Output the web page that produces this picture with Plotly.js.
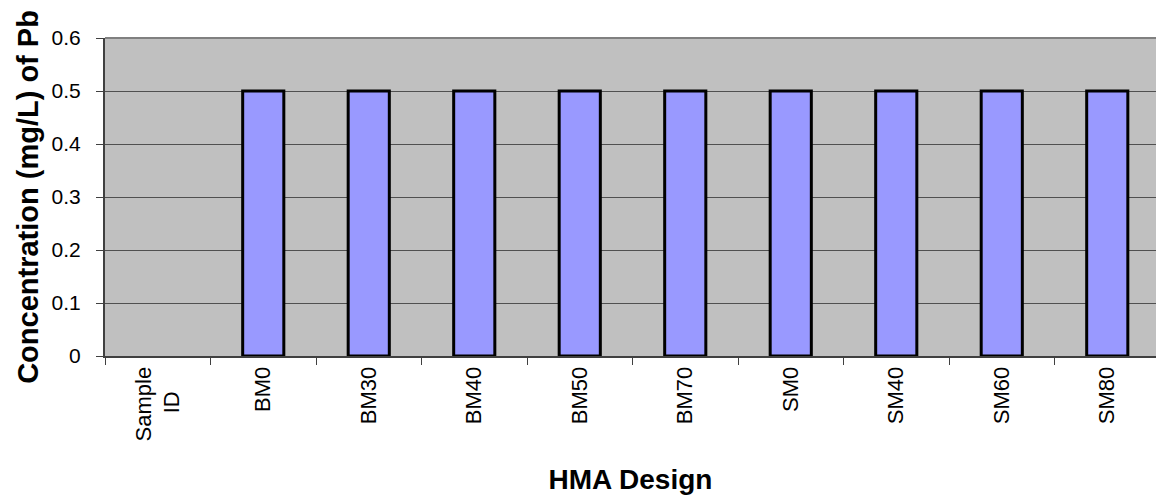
<!DOCTYPE html>
<html>
<head>
<meta charset="utf-8">
<script src="https://cdn.plot.ly/plotly-3.0.1.min.js"></script>
<style>
  html, body { margin: 0; padding: 0; background: #ffffff; }
  #chart { width: 1156px; height: 497px; }
</style>
</head>
<body>
<div id="chart"></div>
<script>
// Data
const categories = ["Sample<br>ID\u00a0\u00a0\u00a0\u00a0", "BM0", "BM30", "BM40", "BM50", "BM70", "SM0", "SM40", "SM60", "SM80"];
const pbConcentration = [null, 0.5, 0.5, 0.5, 0.5, 0.5, 0.5, 0.5, 0.5, 0.5];
const yTickValues = [0, 0.1, 0.2, 0.3, 0.4, 0.5, 0.6];
const yTickLabels = ["0", "0.1", "0.2", "0.3", "0.4", "0.5", "0.6"];
const xAxisTitle = "HMA Design";
const yAxisTitle = "Concentration (mg/L) of Pb";

const font = "Liberation Sans, Arial, sans-serif";

const trace = {
  type: "bar",
  x: categories,
  y: pbConcentration,
  marker: { color: "#9999FF", line: { color: "#000000", width: 3 } },
  hoverinfo: "x+y"
};

const layout = {
  width: 1156,
  height: 497,
  margin: { l: 105, r: 0, t: 38, b: 141 },
  paper_bgcolor: "#ffffff",
  plot_bgcolor: "#C0C0C0",
  bargap: 0.61,
  showlegend: false,
  font: { family: font, color: "#000000", size: 21 },
  xaxis: {
    type: "category",
    range: [-0.5, 9.462],
    tickangle: -90,
    ticks: "outside",
    tickson: "boundaries",
    ticklen: 7,
    tickwidth: 1,
    tickcolor: "#404040",
    showline: true,
    linecolor: "#404040",
    linewidth: 2,
    showgrid: false,
    zeroline: false,
    tickfont: { family: font, size: 22, color: "#000000" },
    title: { text: xAxisTitle, font: { family: font, size: 28, color: "#000000", weight: "bold" }, standoff: 29 }
  },
  yaxis: {
    range: [0, 0.6],
    tickvals: yTickValues,
    ticktext: yTickLabels,
    ticks: "outside",
    ticklen: 7,
    tickwidth: 1,
    tickcolor: "#404040",
    ticklabelstandoff: 11,
    showline: true,
    linecolor: "#404040",
    linewidth: 2,
    showgrid: true,
    gridcolor: "#505050",
    gridwidth: 1,
    zeroline: false,
    tickfont: { family: font, size: 21, color: "#000000" },
    title: { text: yAxisTitle, font: { family: font, size: 29, color: "#000000", weight: "bold" }, standoff: 4 }
  },
  shapes: [
    { type: "line", xref: "paper", yref: "paper", x0: 0, x1: 1, y0: 1, y1: 1,
      line: { color: "#808080", width: 2 } }
  ]
};

Plotly.newPlot("chart", [trace], layout, { displayModeBar: false, staticPlot: true });
</script>
</body>
</html>
